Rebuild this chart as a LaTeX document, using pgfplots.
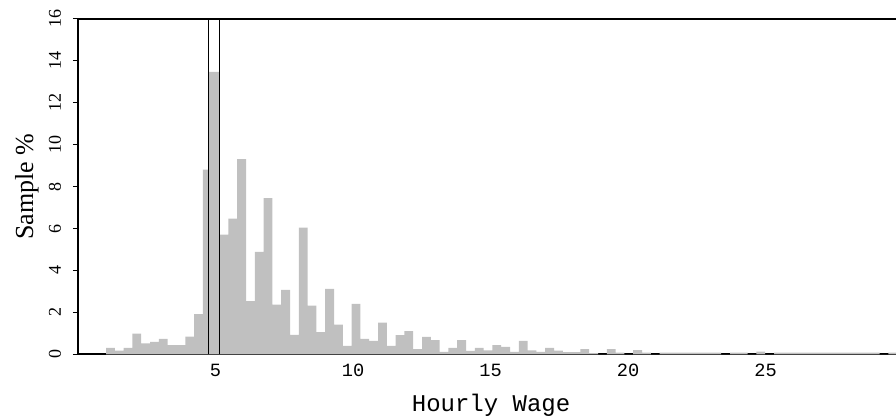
\documentclass[border=0pt]{standalone}
\usepackage{fontspec}
\setmainfont{Liberation Serif}
\newfontfamily\monof{Liberation Mono}
\usepackage{pgfplots}
\usepackage{pgfplotstable}
\pgfplotsset{compat=1.18}
\definecolor{barcol}{RGB}{192,192,192}

% histogram: left bin edge, height (last point only closes the final bin)
\pgfplotstableread{
x y
1.02 0.31
1.34 0.17
1.66 0.31
1.98 0.98
2.30 0.52
2.62 0.59
2.94 0.73
3.26 0.44
3.58 0.44
3.90 0.84
4.22 1.91
4.54 8.81
4.75 13.47
5.15 5.71
5.47 6.47
5.79 9.31
6.11 2.53
6.43 4.88
6.75 7.45
7.07 2.37
7.39 3.07
7.71 0.92
8.03 6.04
8.35 2.32
8.67 1.06
8.99 3.12
9.31 1.41
9.63 0.40
9.95 2.40
10.27 0.74
10.59 0.64
10.91 1.51
11.23 0.40
11.55 0.91
11.87 1.11
12.19 0.25
12.51 0.83
12.83 0.68
13.15 0.11
13.47 0.30
13.79 0.68
14.11 0.16
14.43 0.30
14.75 0.19
15.07 0.44
15.39 0.35
15.71 0.11
16.03 0.64
16.35 0.19
16.67 0.11
16.99 0.30
17.31 0.17
17.63 0.10
17.95 0.10
18.27 0.25
18.59 0.06
18.91 0
19.23 0.25
19.55 0.08
19.87 0
20.19 0.20
20.51 0.08
20.83 0
21.15 0.08
21.47 0.08
21.79 0.08
22.11 0.08
22.43 0.08
22.75 0.08
23.07 0.08
23.39 0
23.71 0.08
24.03 0.08
24.35 0
24.67 0.12
24.99 0
25.31 0.08
25.63 0.08
25.95 0.08
26.27 0.08
26.59 0.08
26.91 0.08
27.23 0.08
27.55 0.08
27.87 0.08
28.19 0.08
28.51 0.08
28.83 0.08
29.15 0
29.47 0.08
29.79 0
}\wages

\begin{document}
\begin{tikzpicture}
\path[use as bounding box] (-58.5pt,-47pt) rectangle (613.5pt,265.7pt);
\begin{axis}[
  at={(0,0)}, anchor=south west,
  scale only axis, width=613.5pt, height=251.5pt,
  xmin=0, xmax=29.745, ymin=0, ymax=16,
  axis lines=left,
  axis line style={-, line width=1.8pt},
  x axis line style={draw=none},
  xtick={5,10,15,20,25}, xtick style={draw=none},
  ytick={0,2,...,16},
  tick align=outside, major tick length=3.75pt,
  ytick style={line width=0.8pt, black},
  /pgf/number format/assume math mode=true,
  xticklabel style={font=\monof\fontsize{14}{16}\selectfont},
  yticklabel style={font=\fontsize{13.5}{15}\selectfont, rotate=90, anchor=south},
  yticklabel shift=5.5pt,
  xlabel={Hourly Wage},
  xlabel style={font=\monof\fontsize{18}{20}\selectfont, at={(axis description cs:0.505,0)}, anchor=base, yshift=-43.3pt},
  ylabel={Sample \%},
  ylabel style={font=\fontsize{19.5}{22}\selectfont, at={(axis description cs:-0.055,0.5)}, anchor=base},
]
% bottom and top frame lines; the bars are drawn over the bottom one
\draw[line width=2.2pt] (rel axis cs:0,0) -- (rel axis cs:1,0);
\draw[line width=2.2pt] (rel axis cs:0,1) -- (rel axis cs:1,1);
\addplot[ybar interval, fill=barcol, draw=none] table[x=x, y=y] {\wages};
\addplot[black, line width=0.7pt] coordinates {(4.75,0) (4.75,16)};
\addplot[black, line width=0.7pt] coordinates {(5.15,0) (5.15,16)};
\end{axis}
\end{tikzpicture}
\end{document}
